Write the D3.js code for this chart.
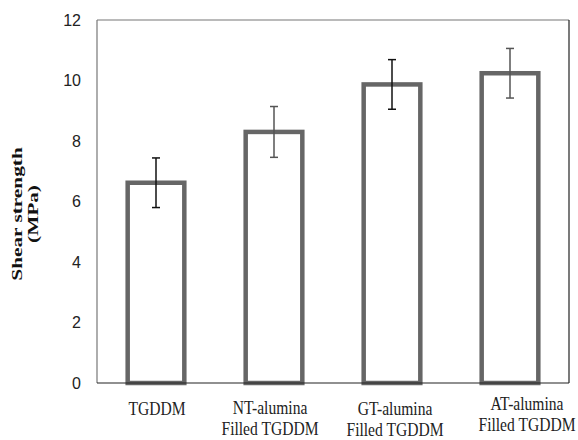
<!DOCTYPE html>
<html>
<head>
<meta charset="utf-8">
<script src="https://cdn.jsdelivr.net/npm/d3@7"></script>
<style>
  body { margin: 0; background: #fff; }
</style>
</head>
<body>
<script>
var categories = ["TGDDM", "NT-alumina\nFilled TGDDM", "GT-alumina\nFilled TGDDM", "AT-alumina\nFilled TGDDM"];
var strength = [6.62, 8.30, 9.87, 10.24];
var errors = [0.82, 0.84, 0.82, 0.82];
var yTicks = [0, 2, 4, 6, 8, 10, 12];

(function() {
  var width = 578, height = 440;
  var margin = {top: 20, right: 9, bottom: 57, left: 97};
  var w = width - margin.left - margin.right,
      h = height - margin.top - margin.bottom;

  // the source figure is squashed sideways, so text gets a matching stretch
  var squash = 0.82;
  // hand placed labels in the original sit a little off the bar centres
  var labelDx = [1, -4, 3, 17], labelDy = [1, 0, 1, -4];

  var svg = d3.select('body').append('svg')
      .attr('width', width)
      .attr('height', height);

  var g = svg.append('g')
      .attr('transform', 'translate(' + margin.left + ',' + margin.top + ')');

  var x = d3.scaleBand()
      .domain(categories)
      .range([0, w])
      .paddingInner(0.52)
      .paddingOuter(0.26);

  var y = d3.scaleLinear()
      .domain([0, 12])
      .range([h, 0]);

  // y tick labels
  var yAxis = g.append('g')
      .call(d3.axisLeft(y).tickValues(yTicks).tickSize(0).tickPadding(16));
  yAxis.select('.domain').remove();
  yAxis.selectAll('text')
      .attr('font-family', 'Liberation Sans, Arial, sans-serif')
      .attr('font-size', 16)
      .attr('fill', '#222');

  // frame
  g.append('line').attr('x1', 0).attr('x2', 0).attr('y1', 0).attr('y2', h)
      .attr('stroke', '#777').attr('stroke-width', 1.2);
  g.append('line').attr('x1', 0).attr('x2', w).attr('y1', 0).attr('y2', 0)
      .attr('stroke', '#777').attr('stroke-width', 1.2);
  g.append('line').attr('x1', w).attr('x2', w).attr('y1', 0).attr('y2', h)
      .attr('stroke', '#222').attr('stroke-width', 1.2);

  // bars
  g.selectAll('.bar')
      .data(strength)
    .enter().append('rect')
      .attr('class', 'bar')
      .attr('x', function(d, i) { return x(categories[i]); })
      .attr('width', x.bandwidth())
      .attr('y', function(d) { return y(d); })
      .attr('height', function(d) { return y(0) - y(d); })
      .attr('fill', '#fff')
      .attr('stroke', '#666')
      .attr('stroke-width', 4.5);

  g.append('line').attr('x1', 0).attr('x2', w).attr('y1', h).attr('y2', h)
      .attr('stroke', '#222').attr('stroke-width', 1.2);

  // error bars
  var err = g.selectAll('.err')
      .data(strength)
    .enter().append('g')
      .attr('class', 'err')
      .attr('stroke', function(d, i) { return i % 2 ? '#555' : '#111'; })
      .attr('stroke-width', 1.5)
      .attr('transform', function(d, i) {
        return 'translate(' + (x(categories[i]) + x.bandwidth() / 2) + ',0)';
      });
  err.append('line')
      .attr('y1', function(d, i) { return y(d + errors[i]); })
      .attr('y2', function(d, i) { return y(d - errors[i]); });
  err.append('line')
      .attr('x1', -4).attr('x2', 4)
      .attr('y1', function(d, i) { return y(d + errors[i]); })
      .attr('y2', function(d, i) { return y(d + errors[i]); });
  err.append('line')
      .attr('x1', -4).attr('x2', 4)
      .attr('y1', function(d, i) { return y(d - errors[i]); })
      .attr('y2', function(d, i) { return y(d - errors[i]); });

  // category labels
  var labels = g.selectAll('.cat')
      .data(categories)
    .enter().append('text')
      .attr('class', 'cat')
      .attr('transform', function(d, i) {
        return 'translate(' + (x(d) + x.bandwidth() / 2 + labelDx[i]) + ',' + (h + 31 + labelDy[i]) + ') scale(' + squash + ',1)';
      })
      .attr('text-anchor', 'middle')
      .attr('font-family', 'Liberation Serif, Times New Roman, serif')
      .attr('font-size', 19)
      .attr('fill', '#222');
  labels.selectAll('tspan')
      .data(function(d) { return d.split('\n'); })
    .enter().append('tspan')
      .attr('x', 0)
      .attr('dy', function(d, i) { return i ? 21 : 0; })
      .text(function(d) { return d; });

  // y axis title
  var title = svg.append('text')
      .attr('transform', 'translate(22,214) rotate(-90) scale(1.42,1)')
      .attr('text-anchor', 'middle')
      .attr('font-family', 'Liberation Serif, Times New Roman, serif')
      .attr('font-weight', 'bold')
      .attr('font-size', 15)
      .attr('fill', '#111');
  title.append('tspan').attr('x', 0).attr('y', 0).text('Shear strength');
  title.append('tspan').attr('x', 0).attr('y', 16).text('(MPa)');
})();
</script>
</body>
</html>
